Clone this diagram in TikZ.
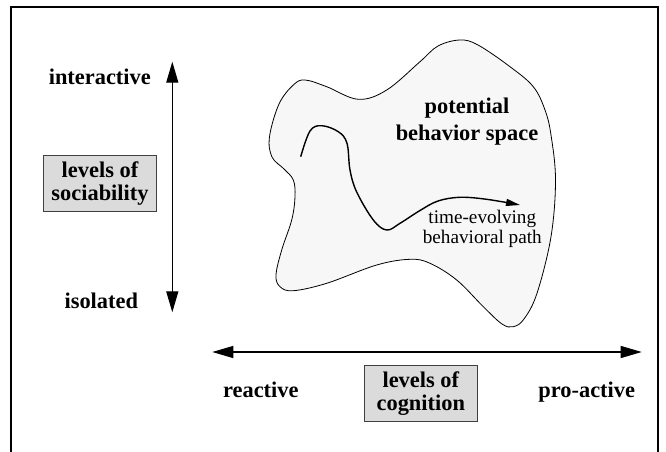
\documentclass[tikz,border=0pt]{standalone}
\usepackage{fontspec}
\setmainfont{Liberation Serif}
\usetikzlibrary{arrows.meta}
\begin{document}
\begin{tikzpicture}[x=1pt,y=-1pt,
  lbl/.style={font=\fontsize{22.4}{27}\selectfont\bfseries, inner sep=0pt, align=center},
  small/.style={font=\fontsize{19.2}{20}\selectfont, inner sep=0pt, align=center},
  levelbox/.style={draw=black!75, fill=black!14, line width=0.9pt, minimum width=113pt,
    minimum height=56pt, inner sep=0pt, align=center,
    font=\fontsize{22.4}{23.3}\selectfont\bfseries},
  axis/.style={line width=1.3pt, {Triangle[length=21pt,width=12pt]}-{Triangle[length=21pt,width=12pt]}},
  blob/.style={line width=0.8pt, fill=black!3},
  trail/.style={line width=1.4pt, -{Triangle[length=14pt,width=7pt]}}]
\useasboundingbox (0,0) rectangle (666,452);
% frame
\draw[line width=2pt] (11,470) -- (11,6.7) -- (657.5,6.7) -- (657.5,470);
% potential behavior space blob
\draw[blob] plot[smooth cycle, tension=0.6] coordinates {
  (305,80) (326.7,86.7) (358.3,99.3) (386.7,90) (420,61.7) (438,46) (460,40)
  (478,45) (510,66.7) (533.3,86.7) (545,110) (551,135) (555.5,180) (551,236.7)
  (537,293.3) (524,319) (513.3,326.7) (502,324) (483.3,306.7) (456.7,280)
  (430,263.3) (410,259.3) (376.7,265) (326.7,283.3) (293.3,290.7) (280,286.7)
  (276,275) (281.7,250) (291.7,220) (295,196.7) (293.3,180) (284,169) (272,157)
  (269.5,136.7) (279,104) (293.3,85)};
% behavioral path
\draw[trail] plot[smooth, tension=0.6] coordinates {
  (300.7,156.7) (310,131) (321.7,125.7) (338.3,131.7) (347,143.3) (350,170)
  (356.7,192) (373.3,220) (386.7,230) (400,223.3) (420,210.5) (438,201)
  (460,197.3) (486.7,199.3) (520,205)};
% labels
\node[lbl] (potential) at (467,121.5) {potential\\behavior space};
\node[small] (pathlbl) at (482.3,229) {time-evolving\\behavioral path};
\node[lbl] (interactive) at (99.8,76.5) {interactive};
\node[lbl] (isolated) at (101.3,300.8) {isolated};
\node[levelbox] (sociability) at (100,183.4) {levels of\\sociability};
\node[lbl] (reactive) at (260.8,390) {reactive};
\node[lbl] (proactive) at (586.7,392) {pro-active};
\node[levelbox] (cognition) at (420.8,393.8) {levels of\\cognition};
% axes
\coordinate (vtop) at (172.3,61.7);
\coordinate (vbot) at (172.3,312.3);
\coordinate (hleft) at (212.3,352);
\coordinate (hright) at (641.7,352);
\draw[axis] (vbot) -- (vtop);
\draw[axis] (hleft) -- (hright);
\end{tikzpicture}
\end{document}
